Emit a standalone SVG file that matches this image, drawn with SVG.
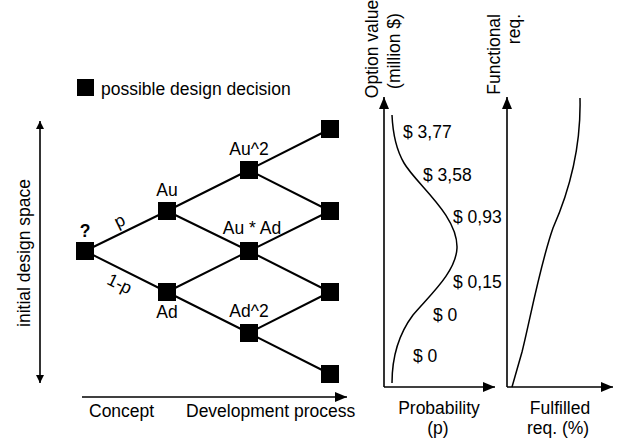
<svg xmlns="http://www.w3.org/2000/svg" width="618" height="441" viewBox="0 0 618 441">
<style>
text{font-family:"Liberation Sans",Arial,Helvetica,sans-serif;font-size:17.5px;fill:#000}
.m{text-anchor:middle}
.e{text-anchor:end}
.b{font-weight:bold}
.node{fill:#000}
.edge{stroke:#000;stroke-width:2;fill:none}
.ax{stroke:#000;stroke-width:1.6;fill:none}
.crv{stroke:#000;stroke-width:1.5;fill:none}
</style>
<defs>
<marker id="ah" markerUnits="userSpaceOnUse" markerWidth="12" markerHeight="10" refX="12" refY="5" orient="auto"><path d="M0,0 L12,5 L0,10 Z" fill="#000"/></marker>
<marker id="as" markerUnits="userSpaceOnUse" markerWidth="8" markerHeight="8" refX="8" refY="4" orient="auto-start-reverse"><path d="M0,0 L8,4 L0,8 Z" fill="#000"/></marker>
</defs>
<rect width="618" height="441" fill="#fff"/>

<g id="legend">
<rect x="77" y="79" width="17" height="17" class="node"/>
<text x="101" y="95">possible design decision</text>
</g>

<g id="design-space-axis">
<line x1="40" y1="121" x2="40" y2="383" class="ax" marker-start="url(#as)" marker-end="url(#as)"/>
<text class="m" transform="translate(30,253) rotate(-90)">initial design space</text>
</g>

<g id="process-axis">
<line x1="82" y1="397" x2="347" y2="397" class="ax" marker-end="url(#ah)"/>
<text x="89" y="417">Concept</text>
<text x="186" y="417">Development process</text>
</g>

<g id="connectors">
<path class="edge" d="M85,251 L167,211 M85,251 L167,292 M167,211 L249,170 M167,211 L249,251 M167,292 L249,251 M167,292 L249,333 M249,170 L330,129 M249,170 L330,211 M249,251 L330,211 M249,251 L330,292 M249,333 L330,292 M249,333 L330,374"/>
<text class="m" transform="translate(122,226) rotate(-26)">p</text>
<text class="m" transform="translate(117,289) rotate(26)">1-p</text>
</g>

<g id="n0"><rect x="76" y="242" width="18" height="18" class="node"/><text class="m b" x="85" y="237">?</text></g>
<g id="nAu"><rect x="158" y="202" width="18" height="18" class="node"/><text class="m" x="167" y="196">Au</text></g>
<g id="nAd"><rect x="158" y="283" width="18" height="18" class="node"/><text class="m" x="167" y="318">Ad</text></g>
<g id="nAu2"><rect x="240" y="161" width="18" height="18" class="node"/><text class="m" x="249" y="155">Au^2</text></g>
<g id="nAuAd"><rect x="240" y="242" width="18" height="18" class="node"/><text class="m" x="252" y="234">Au * Ad</text></g>
<g id="nAd2"><rect x="240" y="324" width="18" height="18" class="node"/><text class="m" x="249" y="317">Ad^2</text></g>
<g id="r1"><rect x="321" y="120" width="18" height="18" class="node"/></g>
<g id="r2"><rect x="321" y="202" width="18" height="18" class="node"/></g>
<g id="r3"><rect x="321" y="283" width="18" height="18" class="node"/></g>
<g id="r4"><rect x="321" y="365" width="18" height="18" class="node"/></g>

<g id="option-value-chart">
<line x1="384" y1="387" x2="495" y2="387" class="ax" marker-end="url(#ah)"/>
<line x1="384" y1="387" x2="384" y2="97" class="ax" marker-end="url(#ah)"/>
<path class="crv" d="M392,115 C393,138 397,151 404,163 C416,184 458,215 457,248 C456,272 430,295 413,315 C398,335 392,360 392,383"/>
<text class="m" transform="translate(378,49) rotate(-90)">Option value</text>
<text class="m" transform="translate(400,51) rotate(-90)">(million $)</text>
<text x="403" y="138">$ 3,77</text>
<text x="423" y="181">$ 3,58</text>
<text x="453" y="223">$ 0,93</text>
<text x="453" y="288">$ 0,15</text>
<text x="433" y="321">$ 0</text>
<text x="413" y="362">$ 0</text>
<text class="m" x="439" y="414">Probability</text>
<text class="m" x="438" y="434">(p)</text>
</g>

<g id="requirements-chart">
<line x1="507" y1="387" x2="613" y2="387" class="ax" marker-end="url(#ah)"/>
<line x1="507" y1="387" x2="507" y2="97" class="ax" marker-end="url(#ah)"/>
<path class="crv" d="M580,98 C581,140 572,185 553,228 C540,265 530,320 522,352 L512,387"/>
<text class="e" transform="translate(500,14) rotate(-90)">Functional</text>
<text class="e" transform="translate(520,14) rotate(-90)">req.</text>
<text class="m" x="560" y="414">Fulfilled</text>
<text class="m" x="558" y="434">req. (%)</text>
</g>
</svg>
